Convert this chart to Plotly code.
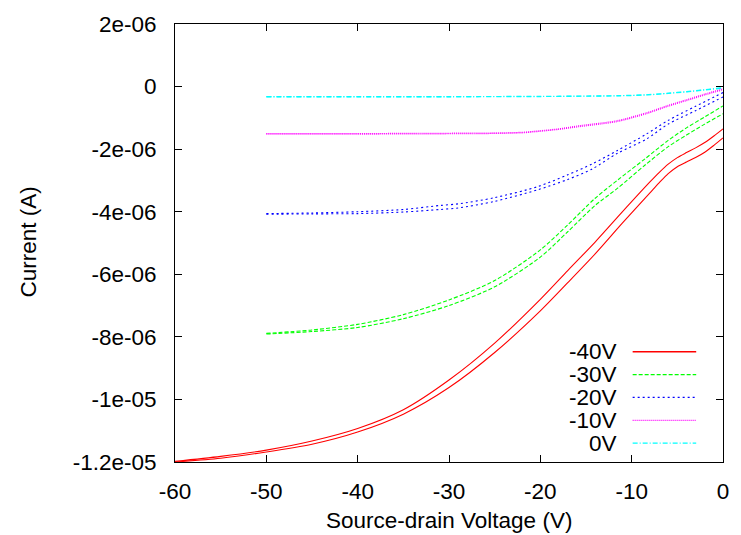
import plotly.graph_objects as go

# Output current (µA) versus source-drain voltage (V) for several gate voltages.
# Each gate voltage was swept twice (forward / reverse).

# Vg = -40 V
x_40 = [-60, -55, -50, -45, -40, -35, -30, -25, -20, -17, -14, -11, -8, -7, -6, -5, -4, -3, -2, -1, 0]
i_40_fwd = [-11.98, -11.82, -11.62, -11.33, -10.93, -10.33, -9.38, -8.2, -6.8, -5.88, -4.97,
            -4.0, -3.05, -2.75, -2.48, -2.27, -2.11, -1.96, -1.79, -1.58, -1.35]
i_40_rev = [-12.0, -11.88, -11.68, -11.43, -11.04, -10.47, -9.62, -8.5, -7.17, -6.27, -5.35,
            -4.36, -3.4, -3.08, -2.78, -2.56, -2.41, -2.27, -2.1, -1.88, -1.64]

# Vg = -30 V
x_30 = [-50, -45, -40, -35, -30, -25, -20, -17, -14, -11.5, -8.5, -6, -4, -2, 0]
i_30_fwd = [-7.89, -7.78, -7.6, -7.29, -6.82, -6.2, -5.22, -4.42, -3.57, -2.98, -2.3, -1.72,
            -1.32, -0.97, -0.62]
i_30_rev = [-7.91, -7.83, -7.7, -7.42, -7.0, -6.4, -5.45, -4.64, -3.8, -3.24, -2.5, -1.92,
            -1.55, -1.2, -0.87]

# Vg = -20 V
x_20 = [-50, -45, -40, -35, -31, -29, -25, -20.3, -17, -14.3, -11.6, -8.4, -6, -3, 0]
i_20_fwd = [-4.06, -4.04, -4.0, -3.93, -3.8, -3.75, -3.55, -3.2, -2.82, -2.47, -2.05, -1.52,
            -1.08, -0.63, -0.19]
i_20_rev = [-4.08, -4.07, -4.06, -4.01, -3.93, -3.88, -3.67, -3.3, -2.97, -2.63, -2.14, -1.68,
            -1.2, -0.77, -0.33]

# Vg = -10 V
x_10 = [-50, -40, -30, -25, -22, -20, -18, -15.7, -13.5, -11.6, -8.4, -6, -4, -2, 0]
i_10_fwd = [-1.5, -1.5, -1.49, -1.48, -1.46, -1.41, -1.35, -1.25, -1.17, -1.09, -0.84, -0.6,
            -0.42, -0.24, -0.07]
i_10_rev = [-1.52, -1.52, -1.51, -1.5, -1.48, -1.43, -1.37, -1.28, -1.2, -1.12, -0.87, -0.63,
            -0.45, -0.27, -0.1]

# Vg = 0 V
x_0 = [-50, -40, -30, -20, -15, -11.6, -8.4, -6, -4, -2, 0]
i_0_fwd = [-0.32, -0.32, -0.32, -0.31, -0.3, -0.29, -0.26, -0.21, -0.16, -0.1, -0.03]
i_0_rev = [-0.33, -0.33, -0.33, -0.32, -0.31, -0.3, -0.27, -0.22, -0.17, -0.11, -0.05]

labels = ["-40V", "-30V", "-20V", "-10V", "0V"]
colors = ["#ff0000", "#00ff00", "#0000ff", "#ff00ff", "#00ffff"]
dashes = ["solid", "4px,2px", "2px,3px", "1px,1px", "5px,2px,1px,2px"]

y_tickvals = [2e-06, 0, -2e-06, -4e-06, -6e-06, -8e-06, -1e-05, -1.2e-05]
y_ticktext = ["2e-06", "0", "-2e-06", "-4e-06", "-6e-06", "-8e-06", "-1e-05", "-1.2e-05"]
x_tickvals = [-60, -50, -40, -30, -20, -10, 0]

series = [
    (x_40, i_40_fwd, i_40_rev),
    (x_30, i_30_fwd, i_30_rev),
    (x_20, i_20_fwd, i_20_rev),
    (x_10, i_10_fwd, i_10_rev),
    (x_0, i_0_fwd, i_0_rev),
]

FONT = "Liberation Sans, Arial, sans-serif"
FS = 22.5
W, H = 741, 535
ML, MR, MT, MB = 175, 14, 23, 73

fig = go.Figure()
for (xs, fwd, rev), name, col, dash in zip(series, labels, colors, dashes):
    for sweep in (fwd, rev):
        fig.add_trace(go.Scatter(
            x=xs, y=[v * 1e-6 for v in sweep], mode="lines", name=name,
            line=dict(color=col, width=1.1, dash=dash, shape="spline", smoothing=0.8),
            showlegend=False, hoverinfo="skip",
        ))

# gnuplot-style key: label on the left, line sample on the right
pw, ph = W - ML - MR, H - MT - MB
key_text_right = 622
key_line = (636, 700)
key_top, key_step = 351.5, 22.9
for k, (name, col, dash) in enumerate(zip(labels, colors, dashes)):
    py = key_top + k * key_step
    yp = (H - MB - py) / ph
    fig.add_annotation(
        x=(key_text_right - ML) / pw, y=yp, xref="paper", yref="paper",
        text=name, showarrow=False, xanchor="right", yanchor="middle",
        font=dict(family=FONT, size=FS, color="black"),
    )
    fig.add_shape(
        type="line", xref="paper", yref="paper",
        x0=(key_line[0] - ML) / pw, x1=(key_line[1] - ML) / pw, y0=yp, y1=yp,
        line=dict(color=col, width=1.3, dash=dash),
    )

# axis titles
fig.add_annotation(
    x=(451 - ML) / pw, y=(H - MB - 521) / ph, xref="paper", yref="paper",
    text="Source-drain Voltage (V)", showarrow=False, xanchor="center", yanchor="middle",
    font=dict(family=FONT, size=FS, color="black"),
)
fig.add_annotation(
    x=(27 - ML) / pw, y=(H - MB - 242) / ph, xref="paper", yref="paper",
    text="Current (A)", showarrow=False, textangle=-90, xanchor="center", yanchor="middle",
    font=dict(family=FONT, size=FS, color="black"),
)

axis_common = dict(
    showgrid=False, zeroline=False, showline=True, linecolor="black", linewidth=1,
    mirror="ticks", ticks="inside", ticklen=7, tickcolor="black", tickwidth=1,
    tickfont=dict(family=FONT, size=FS, color="black"),
)
fig.update_xaxes(range=[-60, 0], tickvals=x_tickvals, ticktext=[str(v) for v in x_tickvals],
                 ticklabelstandoff=9, **axis_common)
fig.update_yaxes(range=[-1.2e-05, 2e-06], tickvals=y_tickvals, ticktext=y_ticktext,
                 ticklabelstandoff=13, **axis_common)

fig.update_layout(
    width=W, height=H,
    margin=dict(l=ML, r=MR, t=MT, b=MB),
    paper_bgcolor="white", plot_bgcolor="white",
    font=dict(family=FONT, size=FS, color="black"),
)

fig.write_html("out.html")
